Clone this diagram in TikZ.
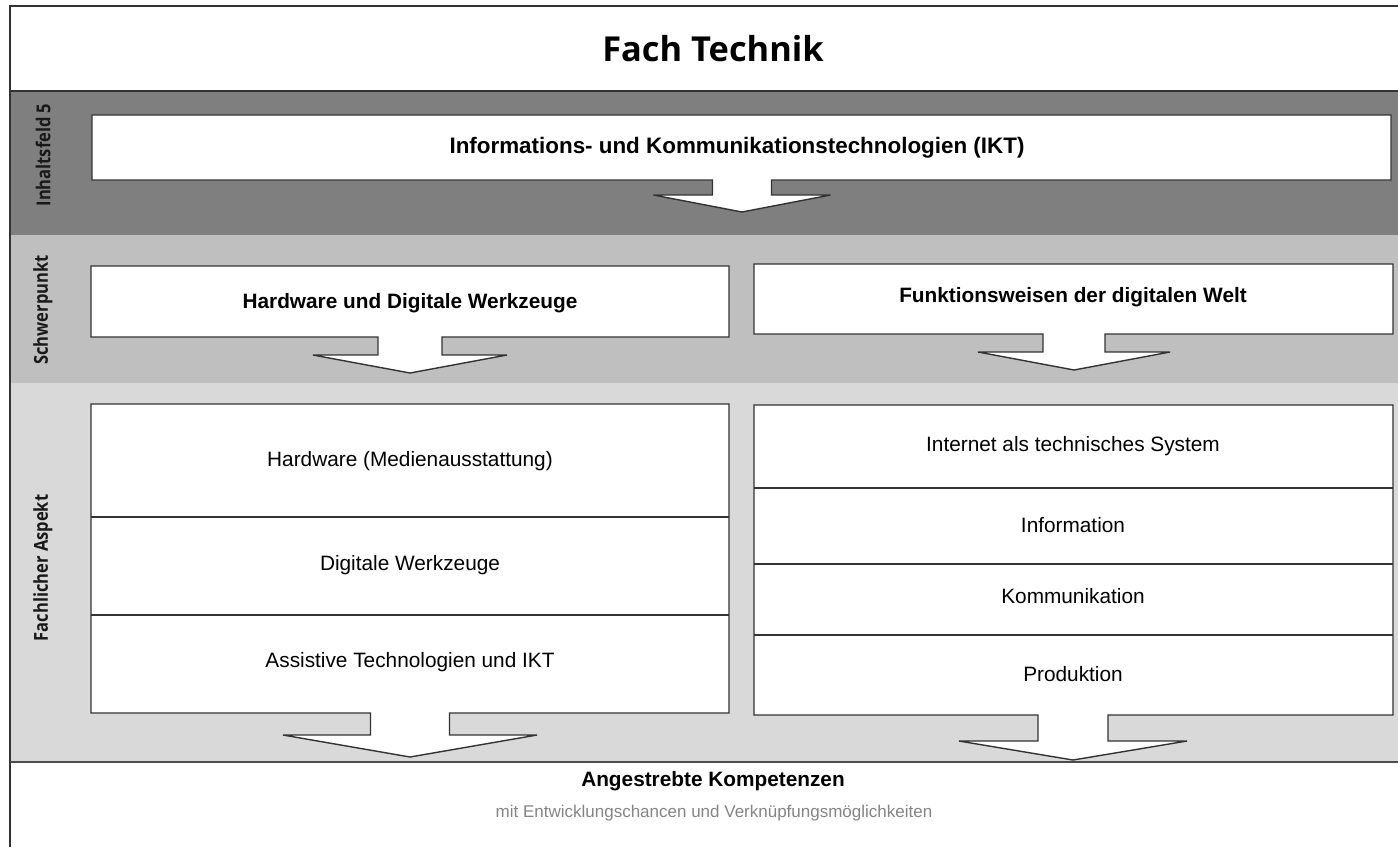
\documentclass[tikz,border=0pt]{standalone}
\usepackage{fontspec}
\usepackage{graphicx}
\setmainfont{Liberation Sans}
\newfontfamily\osans{Open Sans}
\definecolor{bandA}{HTML}{7F7F7F}
\definecolor{bandB}{HTML}{BFBFBF}
\definecolor{bandC}{HTML}{D9D9D9}
\definecolor{edge}{HTML}{333333}
\definecolor{subgray}{HTML}{858585}
% #1 x1, #2 y1, #3 x2, #4 y2, #5 centre x, #6 shaft half width, #7 shaft bottom, #8 wing half width, #9 tip y
\newcommand\arrowbox[9]{%
  \draw[boxline] (#1,#2) -- (#3,#2) -- (#3,#4) -- (#5+#6,#4) -- (#5+#6,#7) -- (#5+#8,#7)
    -- (#5,#9) -- (#5-#8,#7) -- (#5-#6,#7) -- (#5-#6,#4) -- (#1,#4) -- cycle;}
\newcommand\sidetext[1]{\scalebox{0.86}[1]{#1}}
\begin{document}
\begin{tikzpicture}[x=0.5pt,y=-0.5pt,
  boxline/.style={draw=edge,line width=0.7pt,fill=white,line join=miter},
  sidelabel/.style={rotate=90,font=\osans\bfseries\fontsize{9.6}{11}\selectfont,text=black!90},
  headtext/.style={font=\bfseries\fontsize{10.4}{12}\selectfont},
  itemtext/.style={font=\fontsize{10.4}{12}\selectfont}]
\useasboundingbox (0,0) rectangle (1398,847);
\fill[white] (0,0) rectangle (1398,847);
% bands
\fill[bandA] (10,91) rectangle (1398,235);
\fill[bandB] (10,235) rectangle (1398,383);
\fill[bandC] (10,383) rectangle (1398,762);
% frame
\draw[edge,line width=0.7pt] (1398,6) -- (10,6) -- (10,847);
\draw[edge,line width=0.7pt] (10,91) -- (1398,91);
\draw[black!70,line width=0.9pt] (10,762) -- (1398,762);
\node[font=\osans\bfseries\fontsize{17.2}{20}\selectfont] (title) at (713,49) {Fach Technik};
% side labels
\node[sidelabel] (lab1) at (43,155) {\sidetext{Inhaltsfeld 5}};
\node[sidelabel] (lab2) at (43,310) {\sidetext{Schwerpunkt}};
\node[sidelabel] (lab3) at (43,568) {\sidetext{Fachlicher Aspekt}};
% Inhaltsfeld box
\arrowbox{92}{115}{1391}{180}{742}{29.5}{195}{88.5}{212}
\node[font=\bfseries\fontsize{11.2}{13}\selectfont] (ikt) at (737,148) {Informations- und Kommunikationstechnologien (IKT)};
% Schwerpunkt boxes
\arrowbox{91}{266}{729}{337}{410}{32}{355}{97}{373}
\node[headtext] (hw) at (410,303) {Hardware und Digitale Werkzeuge};
\arrowbox{754}{264}{1393}{334}{1074}{31}{352}{96}{370}
\node[headtext] (fw) at (1073,297) {Funktionsweisen der digitalen Welt};
% Fachlicher Aspekt boxes
\arrowbox{91}{404}{729}{713}{410}{39.5}{735}{127}{757}
\draw[edge,line width=0.7pt] (91,517) -- (729,517);
\draw[edge,line width=0.7pt] (91,615) -- (729,615);
\node[itemtext] (a1) at (410,461) {Hardware (Medienausstattung)};
\node[itemtext] (a2) at (410,565) {Digitale Werkzeuge};
\node[itemtext] (a3) at (410,662) {Assistive Technologien und IKT};
\arrowbox{754}{405}{1393}{715}{1073}{35}{741}{114}{760}
\draw[edge,line width=0.7pt] (754,488) -- (1393,488);
\draw[edge,line width=0.7pt] (754,564) -- (1393,564);
\draw[edge,line width=0.7pt] (754,635) -- (1393,635);
\node[itemtext] (b1) at (1073,446) {Internet als technisches System};
\node[itemtext] (b2) at (1073,525) {Information};
\node[itemtext] (b3) at (1073,596) {Kommunikation};
\node[itemtext] (b4) at (1073,674) {Produktion};
% bottom
\node[headtext] (komp) at (713,781) {Angestrebte Kompetenzen};
\node[font=\fontsize{8.5}{10}\selectfont,text=subgray] (mit) at (714,813) {mit Entwicklungschancen und Verknüpfungsmöglichkeiten};
\end{tikzpicture}
\end{document}
